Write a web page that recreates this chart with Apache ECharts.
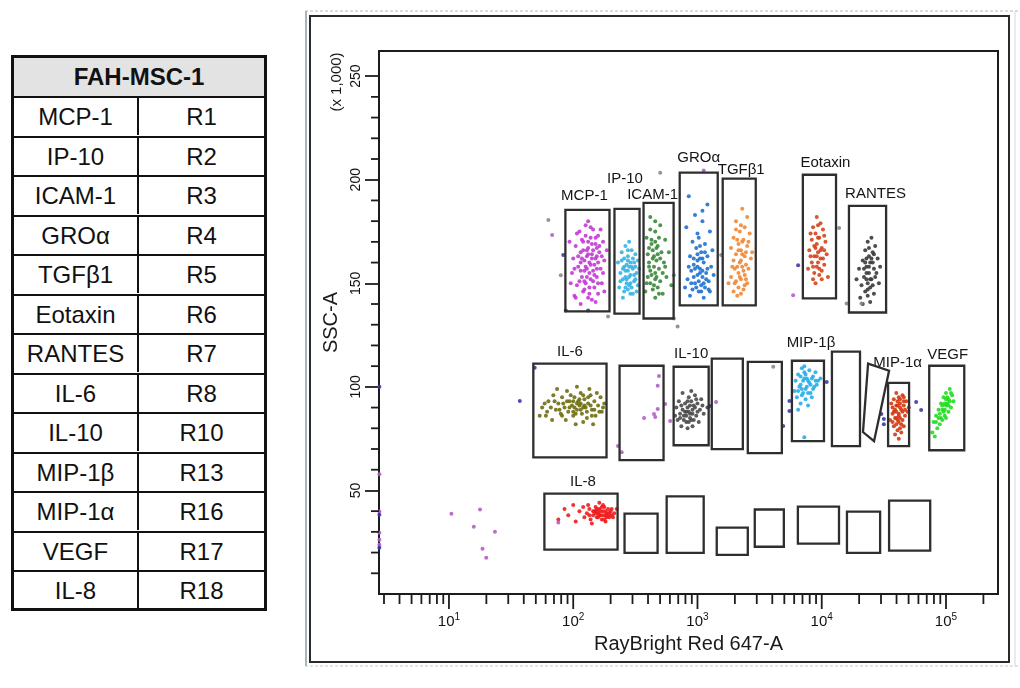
<!DOCTYPE html>
<html>
<head>
<meta charset="utf-8">
<script src="https://cdn.jsdelivr.net/npm/echarts@6/dist/echarts.min.js"></script>
<style>
html,body{margin:0;padding:0;background:#fff;}
#chart{position:absolute;left:0;top:0;width:1020px;height:688px;}
#tbl{position:absolute;left:11px;top:55px;width:256px;height:556px;box-sizing:border-box;border:3px solid #111;z-index:3;background:#fff;
  font-family:"Liberation Sans",Arial,sans-serif;color:#111;}
#tbl .hd{position:absolute;left:0;top:0;right:0;height:38px;line-height:38px;background:#e3e3e3;text-align:center;font-weight:bold;font-size:24px;}
#tbl .row{position:absolute;left:0;right:0;height:39.5px;box-sizing:border-box;border-top:2.5px solid #111;font-size:24px;}
#tbl .c1{position:absolute;left:0;top:0;width:125px;height:37px;line-height:37px;text-align:center;box-sizing:border-box;border-right:2.5px solid #111;}
#tbl .c2{position:absolute;left:125px;right:0;top:0;height:37px;line-height:37px;text-align:center;}
</style>
</head>
<body>
<div id="chart"></div>
<div id="tbl"></div>
<script>
// ---------------- table data ----------------
const tableTitle = 'FAH-MSC-1';
const analytes = ['MCP-1','IP-10','ICAM-1','GROα','TGFβ1','Eotaxin','RANTES','IL-6','IL-10','MIP-1β','MIP-1α','VEGF','IL-8'];
const regions  = ['R1','R2','R3','R4','R5','R6','R7','R8','R10','R13','R16','R17','R18'];

// ---------------- axis ranges / ticks ----------------
const X_MIN = 2.735, X_MAX = 262144;      // RayBright Red 647-A
const Y_MIN = 0, Y_MAX = 262.144;          // SSC-A (x 1,000)
const xMinorTicks = [3,4,5,6,7,8,9,20,30,40,50,60,70,80,90,200,300,400,500,600,700,800,900,
  2000,3000,4000,5000,6000,7000,8000,9000,20000,30000,40000,50000,60000,70000,80000,90000,200000];
const xMajorTicks = [10,100,1000,10000,100000];
const yMinorTicks = [10,20,30,40,60,70,80,90,110,120,130,140,160,170,180,190,210,220,230,240];

// ---------------- events: [log10(RayBright Red 647-A), SSC-A x1000] ----------------
const mcp1Pts = [[2.05,175],[2.10,178],[2.16,176],[2.20,173],[2.14,172],[2.08,170],[2.02,168],[2.18,169],[2.24,170],[2.12,167],
[2.06,165],[2.15,164],[2.21,165],[2.00,162],[2.09,161],[2.13,160],[2.18,162],[2.25,161],[2.04,158],[2.11,157],
[2.16,156],[2.22,157],[1.99,155],[2.07,153],[2.14,152],[2.19,153],[2.10,150],[2.03,149],[2.17,148],[2.23,150],
[2.08,146],[2.13,145],[2.20,145],[2.01,144],[2.15,142],[2.06,140],[2.18,141],[2.11,163],[2.17,159],[2.07,171],
[2.27,166],[1.97,170],[2.22,176],[2.12,180],[2.04,163],[2.19,167],[2.09,151],[2.15,169],[2.24,155],[1.98,150],
[2.13,155],[2.06,156],[2.20,160],[2.10,173],[2.16,151],[2.02,143],[2.25,146],[2.12,143],
[2.08,166],[2.12,164],[2.16,166],[2.19,163],[2.10,158],[2.14,159],[2.06,160],[2.21,168],[2.17,154],[2.11,153],
[2.05,151],[2.13,148],[2.09,156],[2.15,162],[2.19,157],[2.07,162],[2.23,163],[2.01,157],[2.12,170],[2.18,172],
[2.03,174],[2.14,177],[2.09,147],[2.20,150],[2.11,166]];
const ip10Pts = [[2.42,168],[2.47,166],[2.44,163],[2.50,164],[2.39,161],[2.46,160],[2.52,161],[2.41,158],[2.48,157],[2.44,156],
[2.38,155],[2.51,155],[2.45,153],[2.40,152],[2.49,151],[2.43,150],[2.47,148],[2.37,148],[2.52,149],[2.41,146],
[2.46,145],[2.43,159],[2.50,158],[2.39,165],[2.45,170],[2.49,154],[2.42,153],[2.36,160],[2.53,157],[2.44,147],
[2.40,143],[2.48,162],[2.46,150],[2.41,162],
[2.44,161],[2.47,158],[2.42,156],[2.45,149],[2.49,160],[2.40,157],[2.46,154],[2.43,152],[2.50,152],[2.44,166],
[2.38,151],[2.48,145],[2.42,148],[2.51,146],[2.45,158]];
const icam1Pts = [[2.62,182],[2.70,178],[2.66,175],[2.59,172],[2.74,171],[2.63,169],[2.68,168],[2.71,165],[2.60,164],[2.65,163],
[2.67,167],[2.64,166],[2.73,160],[2.61,158],[2.69,157],[2.66,155],[2.63,154],[2.66,152],[2.70,151],[2.62,150],
[2.75,153],[2.68,148],[2.64,147],[2.58,146],[2.72,145],[2.66,143],[2.61,160],[2.77,165],[2.69,172],[2.65,158],
[2.62,176],[2.79,149],[2.67,161],[2.60,153],
[2.63,171],[2.66,170],[2.68,164],[2.64,162],[2.62,156],[2.67,153],[2.65,149],[2.70,162],[2.72,155],[2.61,167],
[2.69,145],[2.74,158],[2.59,150],[2.66,180]];
const groaPts = [[2.93,192],[3.08,188],[2.98,183],[3.04,180],[2.91,177],[3.10,175],[3.01,172],[2.96,170],[3.06,169],[3.12,166],
[2.99,167],[3.03,165],[2.94,163],[3.08,163],[3.00,161],[3.05,160],[2.97,159],[3.11,158],[3.02,157],[2.95,156],
[3.07,155],[3.00,154],[3.04,153],[2.92,152],[3.09,151],[2.98,150],[3.03,149],[3.06,148],[2.96,147],[3.01,146],
[3.10,146],[2.94,144],[3.05,143],[3.00,158],[3.07,152],[2.97,153],[3.02,162],[3.13,154],[2.90,148],[3.04,156],
[3.00,164],[3.04,162],[3.02,155],[2.98,157],[3.05,150],[3.01,151],[2.97,162],[3.08,157],[3.03,146],[2.99,148],
[3.06,165],[2.95,150],[3.02,168],[3.09,147],[2.93,158],[3.00,174],[3.04,185]];
const tgfb1Pts = [[3.36,186],[3.40,182],[3.31,180],[3.38,177],[3.34,175],[3.42,174],[3.29,172],[3.37,171],[3.33,169],[3.40,168],
[3.27,167],[3.35,166],[3.31,164],[3.38,163],[3.43,162],[3.29,161],[3.34,160],[3.36,158],[3.30,157],[3.41,157],
[3.33,155],[3.38,154],[3.27,153],[3.35,152],[3.31,151],[3.40,150],[3.33,148],[3.37,147],[3.29,146],[3.35,145],
[3.25,150],[3.44,165],[3.32,171],[3.39,159],[3.36,164],
[3.36,170],[3.33,166],[3.39,165],[3.35,161],[3.32,158],[3.37,156],[3.34,153],[3.30,150],[3.38,149],[3.41,170],
[3.28,158],[3.35,178],[3.31,176],[3.39,152],[3.32,144]];
const eotaxinPts = [[3.96,182],[3.99,179],[3.93,177],[4.01,176],[3.95,174],[3.98,172],[3.92,171],[4.03,170],[3.96,169],[4.00,167],
[3.90,166],[3.97,165],[4.04,164],[3.94,163],[3.99,162],[3.92,160],[4.02,159],[3.96,158],[3.89,157],[4.00,156],
[3.94,155],[3.98,154],[4.05,153],[3.93,152],[3.97,160],[3.95,167],[4.01,162],[3.91,174],
[3.97,172],[3.94,168],[3.99,166],[3.96,163],[4.02,166],[3.93,158],[3.98,157],[4.00,152],[3.95,150],[4.02,173],
[3.97,178],[3.91,163]];
const rantesPts = [[4.40,172],[4.37,170],[4.43,168],[4.35,166],[4.41,165],[4.38,163],[4.45,162],[4.33,161],[4.39,160],[4.36,158],
[4.42,157],[4.30,157],[4.38,155],[4.44,155],[4.34,153],[4.40,152],[4.37,150],[4.46,150],[4.32,149],[4.39,148],
[4.35,146],[4.42,145],[4.37,144],[4.28,152],[4.47,158],[4.36,162],[4.41,160],[4.31,143],[4.33,140],[4.39,141],
[4.38,167],[4.40,162],[4.36,155],[4.39,152],[4.35,160],[4.41,149],[4.37,147],[4.43,153],[4.34,157],[4.42,164],
[4.36,152],[4.38,158]];
const il6Pts = [[1.75,90],[1.80,93],[1.78,86],[1.84,96],[1.86,89],[1.88,92],[1.83,84],[1.91,95],[1.93,90],[1.90,87],
[1.95,98],[1.97,93],[1.96,88],[1.99,91],[2.01,95],[2.00,86],[2.03,89],[2.04,93],[2.06,97],[2.05,91],
[2.07,87],[2.09,94],[2.10,90],[2.12,92],[2.11,85],[2.14,96],[2.15,89],[2.17,93],[2.18,86],[2.20,91],
[2.22,95],[2.23,88],[1.94,84],[2.02,82],[2.08,83],[2.16,82],[1.87,99],[2.03,100],[2.13,99],[1.98,96],
[2.06,92],[1.92,92],[2.01,90],[2.11,88],[1.82,90],[2.19,97],[2.25,92],[1.73,86],[2.00,93],[2.08,90],
[1.97,90],[2.03,92],[2.06,89],[2.09,91],[1.95,93],[2.12,95],[2.00,88],[2.05,94],[1.89,89],[2.14,91],
[2.17,89],[1.85,93],[2.21,88],[1.79,88],[2.08,96],[2.02,87],[1.91,86],[2.15,86],[2.24,90],[1.77,92]];
const il10Pts = [[2.88,97],[2.93,95],[2.98,96],[2.85,93],[2.90,92],[2.95,93],[3.00,92],[2.83,90],[2.88,89],[2.92,90],
[2.96,89],[3.02,89],[2.86,87],[2.91,86],[2.94,87],[2.99,86],[3.05,87],[2.84,84],[2.89,84],[2.93,83],
[2.97,84],[3.01,83],[2.87,81],[2.92,80],[2.96,81],[3.08,90],[2.82,86],[2.95,98],[3.03,94],[2.90,88],
[2.97,91],[2.94,85],
[2.91,88],[2.94,91],[2.96,87],[2.89,86],[2.93,88],[2.98,90],[2.87,91],[2.95,84],[3.00,88],[2.91,83],
[3.04,91],[2.86,85],[2.99,94],[2.92,93]];
const mip1bPts = [[3.84,109],[3.90,108],[3.95,107],[3.81,106],[3.87,106],[3.93,105],[3.99,104],[3.79,103],[3.85,103],[3.90,102],
[3.96,101],[3.82,100],[3.88,100],[3.93,99],[3.78,98],[3.85,97],[3.91,97],[3.80,95],[3.87,94],[3.83,92],
[3.89,91],[3.97,103],[3.86,110],[3.92,95],[3.81,89],[3.94,100],[3.88,104],[3.84,99],[3.86,75.7],
[3.86,104],[3.89,103],[3.83,101],[3.87,99],[3.91,101],[3.84,96],[3.89,97],[3.92,104],[3.86,107],[3.81,98],
[3.95,103],[3.83,105]];
const mip1aPts = [[4.60,97],[4.65,96],[4.58,94],[4.63,94],[4.68,93],[4.56,92],[4.61,91],[4.66,91],[4.59,89],[4.64,89],
[4.69,88],[4.57,87],[4.62,87],[4.67,86],[4.60,85],[4.65,84],[4.55,84],[4.62,83],[4.58,81],[4.66,81],
[4.61,79],[4.64,78],[4.59,77],[4.63,92],[4.60,88],[4.66,95],[4.57,90],[4.63,85],[4.70,90],[4.62,75],
[4.61,93],[4.63,90],[4.60,91],[4.65,88],[4.62,86],[4.59,85],[4.64,82],[4.61,84],[4.67,89],[4.58,88],
[4.63,80],[4.60,82],[4.66,93],[4.62,95],[4.57,83]];
const vegfPts = [[5.03,99],[5.00,97],[5.05,96],[4.98,95],[5.02,94],[5.06,93],[4.96,92],[5.00,91],[5.04,90],[4.94,89],
[4.98,88],[5.02,88],[4.92,86],[4.96,85],[5.00,85],[4.90,83],[4.95,82],[4.93,80],[4.89,78],[4.97,89],
[5.01,92],[4.99,86],[4.91,76],
[5.01,95],[4.99,92],[5.03,93],[4.97,91],[4.99,89],[5.02,91],[4.95,87],[4.97,84],[5.04,97],[4.94,85],
[4.92,83],[5.00,94]];
const il8Pts = [[1.88,36],[1.93,41],[1.96,38],[2.00,43],[2.02,35],[2.05,40],[2.08,42],[2.09,37],[2.11,39],[2.13,41],
[2.14,36],[2.16,38],[2.17,40],[2.18,42],[2.19,37],[2.20,39],[2.21,41],[2.22,38],[2.23,36],[2.24,40],
[2.25,42],[2.26,38],[2.27,39],[2.28,41],[2.29,37],[2.30,40],[2.31,38],[2.33,39],[2.35,41],[2.21,44],
[2.15,34],[2.26,35],[2.12,43],[2.19,40],
[2.18,39],[2.20,37],[2.22,40],[2.24,38],[2.26,40],[2.19,41],[2.23,42],[2.27,37],[2.25,36],[2.29,39],
[2.21,38],[2.16,40],[2.28,38],[2.31,41],[2.13,38],[2.24,43],[2.32,37]];
const otherPurplePts = [[0.44,57.8],[0.44,39.8],[0.44,29.6],[0.44,26.2],[0.44,23.8],[1.02,38.8],[1.25,40.8],[1.20,32.5],[1.37,30.1],
[1.27,21.8],[1.30,17.5],[1.88,34.5],[2.69,105.3],[2.68,100.5],[2.74,91.7],[2.68,89.3],[2.65,86.9],[2.66,85.4],[2.57,85.0],
[2.36,71.4],[2.39,68.4],[2.78,83.5],[3.15,92.7],[1.83,173.3],[3.05,204.4],[3.77,144.2]];
const otherNavyPts = [[0.44,100.0],[0.44,38.3],[0.44,22.3],[1.57,93.2],[1.69,109.2],[3.10,90.8],[3.74,93.2],[3.74,88.3],[3.69,81.1],
[4.50,84.5],[4.50,82.0],[4.48,86.9],[4.76,92.7],[4.80,88.8],[4.04,102.4],[1.92,163.6],[1.94,136.9],[2.12,136.9],[3.81,158.7]];
const otherGrayPts = [[3.61,109.7],[1.80,180.6],[1.90,153.9],[2.28,134.0],[2.70,203.4],[2.81,133.0],[2.81,153.9],[2.84,129.1],
[3.19,163.6],[4.14,176.7],[4.20,140.3],[4.32,140.3]];

// ---------------- gates: [log10 x lo, log10 x hi, y lo, y hi] ----------------
const gateRects = [
 [1.937,2.292,136.4,185.4],[2.332,2.534,135.4,185.9],[2.566,2.808,133.0,188.8],[2.857,3.163,139.3,203.4],
 [3.203,3.469,139.3,200.5],[3.848,4.115,142.7,202.4],[4.219,4.518,135.9,187.4],
 [1.679,2.268,66.0,111.2],[2.373,2.727,64.6,110.2],[2.808,3.090,71.8,109.7],[3.115,3.365,69.9,113.6],
 [3.405,3.679,68.0,112.1],[3.760,4.018,73.8,112.6],[4.082,4.308,71.4,117.0],[4.534,4.703,71.4,101.9],[4.865,5.147,69.4,110.2],
 [1.768,2.357,21.4,48.5],[2.413,2.679,19.9,38.8],[2.752,3.050,19.9,47.1],[3.155,3.405,18.9,32.0],
 [3.461,3.695,22.8,40.8],[3.808,4.139,24.3,42.2],[4.203,4.470,19.9,39.8],[4.542,4.873,20.9,45.1]];
const gateLabels = ['MCP-1','IP-10','ICAM-1','GROα','TGFβ1','Eotaxin','RANTES','IL-6','','IL-10','','','MIP-1β','','MIP-1α','VEGF','IL-8','','','','','','',''];
const slantGate = [[4.373,111.2],[4.542,107.8],[4.421,73.8],[4.332,78.2]];

// ---------------- layout / styles ----------------
const labelOffsets = [[-3,-14],[-2,-30],[-6,-8],[0,-15],[2,-9],[6,-12],[8,-12],[0,-12],[0,0],[0,-13],[0,0],[0,0],[3,-18],[0,0],[-1,-20],[1,-11],[2,-12],[0,0],[0,0],[0,0],[0,0],[0,0],[0,0],[0,0]];
const populations = [
  {name:'MCP-1', pts:mcp1Pts, color:'#c23ad4'},
  {name:'IP-10', pts:ip10Pts, color:'#36b2e4'},
  {name:'ICAM-1', pts:icam1Pts, color:'#3a8a3a'},
  {name:'GROα', pts:groaPts, color:'#1f72cf'},
  {name:'TGFβ1', pts:tgfb1Pts, color:'#f08836'},
  {name:'Eotaxin', pts:eotaxinPts, color:'#d2461c'},
  {name:'RANTES', pts:rantesPts, color:'#3a3a3a'},
  {name:'IL-6', pts:il6Pts, color:'#6e6e12'},
  {name:'IL-10', pts:il10Pts, color:'#4a4a4a'},
  {name:'MIP-1β', pts:mip1bPts, color:'#26aeea'},
  {name:'MIP-1α', pts:mip1aPts, color:'#d43a12'},
  {name:'VEGF', pts:vegfPts, color:'#22dd22'},
  {name:'IL-8', pts:il8Pts, color:'#ee1c1c'},
  {name:'other1', pts:otherPurplePts, color:'#b25ec8'},
  {name:'other2', pts:otherNavyPts, color:'#3a3aa6'},
  {name:'other3', pts:otherGrayPts, color:'#8a8a8a'}
];

// ---------------- table ----------------
(function(){
  const t = document.getElementById('tbl');
  let h = '<div class="hd">' + tableTitle + '</div>';
  analytes.forEach((a,i) => {
    h += '<div class="row" style="top:' + (38 + i*39.5) + 'px"><div class="c1">' + a + '</div><div class="c2">' + regions[i] + '</div></div>';
  });
  t.innerHTML = h;
})();

// ---------------- chart ----------------
const pow10 = e => Math.pow(10, e);
const FONT = '"Liberation Sans", Arial, sans-serif';
const NARROW = '"Liberation Sans Narrow", "Arial Narrow", "Liberation Sans", Arial, sans-serif';
const chart = echarts.init(document.getElementById('chart'), null, {renderer:'canvas'});

const series = populations.map(p => ({
  type:'scatter', name:p.name, z:2, symbol:'circle', symbolSize:4,
  itemStyle:{color:p.color, opacity:0.9},
  data:p.pts.map(q => [pow10(q[0]), q[1]]),
  silent:true
}));

series.push({
  type:'custom', name:'gates', z:5, clip:false, silent:true,
  data: gateRects.map(g => [pow10(g[0]), pow10(g[1]), g[2], g[3]]),
  encode:{x:[0,1], y:[2,3]},
  renderItem(params, api){
    const i = params.dataIndex;
    const a = api.coord([api.value(0), api.value(3)]);
    const b = api.coord([api.value(1), api.value(2)]);
    const ch = [{type:'rect', shape:{x:a[0], y:a[1], width:b[0]-a[0], height:b[1]-a[1]},
      style:{fill:'none', stroke:'#2e2e2e', lineWidth:2.3}}];
    if (gateLabels[i]) {
      const o = labelOffsets[i];
      ch.push({type:'text', style:{text:gateLabels[i], x:(a[0]+b[0])/2 + o[0], y:a[1] + o[1],
        align:'center', verticalAlign:'middle', font:'15px ' + FONT, fill:'#151515'}});
    }
    return {type:'group', children:ch};
  }
});

series.push({
  type:'custom', name:'gate15', z:5, clip:false, silent:true,
  data: slantGate.map(p => [pow10(p[0]), p[1]]),
  renderItem(params, api){
    if (params.dataIndex !== 0) return null;
    const pts = slantGate.map(p => api.coord([pow10(p[0]), p[1]]));
    return {type:'polygon', shape:{points:pts}, style:{fill:'none', stroke:'#2e2e2e', lineWidth:2.3}};
  }
});

// axis tick marks (log minor/major on x, minor on y)
series.push({
  type:'custom', name:'xticks', z:6, clip:false, silent:true,
  data: xMinorTicks.map(v => [v, Y_MIN, 10]).concat(xMajorTicks.map(v => [v, Y_MIN, 15])),
  renderItem(params, api){
    const p = api.coord([api.value(0), api.value(1)]);
    const len = api.value(2);
    return {type:'line', shape:{x1:p[0], y1:p[1], x2:p[0], y2:p[1]+len}, style:{stroke:'#1c1c1c', lineWidth:1.8}};
  }
});
series.push({
  type:'custom', name:'yticks', z:6, clip:false, silent:true,
  data: yMinorTicks.map(v => [X_MIN, v]),
  renderItem(params, api){
    const p = api.coord([api.value(0), api.value(1)]);
    return {type:'line', shape:{x1:p[0]-8, y1:p[1], x2:p[0], y2:p[1]}, style:{stroke:'#1c1c1c', lineWidth:1.8}};
  }
});

chart.setOption({
  animation:false,
  backgroundColor:'#fff',
  grid:{left:379, top:51, width:619, height:543, show:true, borderColor:'#1c1c1c', borderWidth:2, containLabel:false, outerBoundsMode:'none'},
  xAxis:{
    type:'log', logBase:10, min:X_MIN, max:X_MAX,
    axisLine:{show:true, lineStyle:{color:'#1c1c1c', width:2}},
    axisTick:{show:false}, splitLine:{show:false}, minorTick:{show:false},
    axisLabel:{
      margin:18, showMinLabel:false, showMaxLabel:false,
      formatter(v){ const e = Math.log10(v); const r = Math.round(e);
        return (Math.abs(e - r) < 1e-6 && r >= 1) ? '{b|10}{s|' + r + '}' : ''; },
      rich:{ b:{fontSize:15, fontFamily:NARROW, color:'#111', lineHeight:20},
             s:{fontSize:10, fontFamily:NARROW, color:'#111', lineHeight:10, verticalAlign:'top'} }
    },
    name:'RayBright Red 647-A', nameLocation:'middle', nameGap:33,
    nameTextStyle:{fontSize:20, fontFamily:FONT, color:'#1a1a1a'}
  },
  yAxis:{
    type:'value', min:Y_MIN, max:Y_MAX, interval:50,
    axisLine:{show:true, lineStyle:{color:'#1c1c1c', width:2}},
    axisTick:{show:true, length:14, lineStyle:{color:'#1c1c1c', width:1.8}},
    splitLine:{show:false}, minorTick:{show:false},
    axisLabel:{rotate:90, margin:16, fontSize:14, fontFamily:NARROW, color:'#111', showMinLabel:false, showMaxLabel:false,
      formatter(v){ return (v % 50 === 0 && v > 0) ? String(v) : ''; }},
    name:'SSC-A', nameLocation:'middle', nameRotate:90, nameGap:34,
    nameTextStyle:{fontSize:20, fontFamily:FONT, color:'#1a1a1a'}
  },
  graphic:[
    {type:'line', silent:true, shape:{x1:305, y1:11, x2:1020, y2:11}, style:{stroke:'#b8b8b8', lineWidth:1, lineDash:[3,2]}},
    {type:'line', silent:true, shape:{x1:306, y1:11, x2:306, y2:666}, style:{stroke:'#a8b6bc', lineWidth:2}},
    {type:'line', silent:true, shape:{x1:1015, y1:11, x2:1015, y2:666}, style:{stroke:'#d6d6d6', lineWidth:1}},
    {type:'line', silent:true, shape:{x1:305, y1:666, x2:1020, y2:666}, style:{stroke:'#c8c8c8', lineWidth:1, lineDash:[3,2]}},
    {type:'rect', silent:true, shape:{x:310, y:16, width:699, height:646}, style:{fill:'none', stroke:'#2a2a2a', lineWidth:2}},
    {type:'text', silent:true, x:337, y:82, rotation:Math.PI/2,
      style:{text:'(x 1,000)', font:'15px ' + FONT, fill:'#1a1a1a', align:'center', verticalAlign:'middle'}}
  ],
  series:series
});
</script>
</body>
</html>
